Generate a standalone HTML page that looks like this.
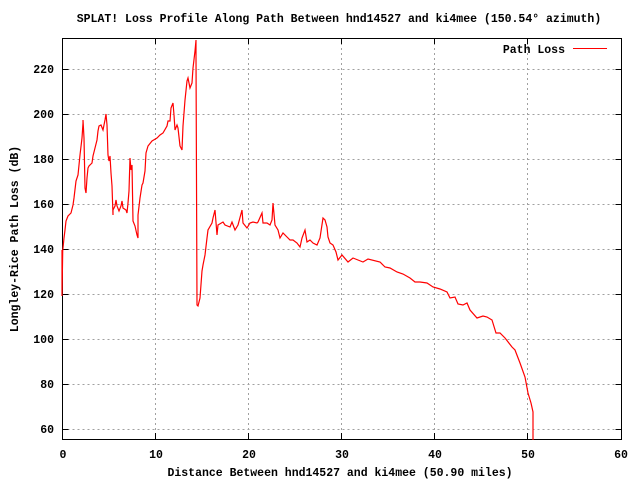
<!DOCTYPE html>
<html><head><style>
html,body{margin:0;padding:0;background:#fff;width:640px;height:480px;overflow:hidden}
text{font-family:"Liberation Mono","DejaVu Sans Mono",monospace;font-weight:bold;font-size:11.5px;fill:#000}
</style></head><body>
<svg width="640" height="480" viewBox="0 0 640 480" xmlns="http://www.w3.org/2000/svg">
<rect width="640" height="480" fill="#fff"/>
<g stroke="#a0a0a0" stroke-width="1" stroke-dasharray="2,3" fill="none">
<path d="M62.5 429.5H621M62.5 384.5H621M62.5 339.5H621M62.5 294.5H621M62.5 249.5H621M62.5 204.5H621M62.5 159.5H621M62.5 114.5H621M62.5 69.5H621"/>
<path d="M155.5 38V439M248.5 38V439M341.5 38V439M434.5 38V439M527.5 38V439"/>
</g>
<g stroke="#000" stroke-width="1">
<rect x="62.5" y="38.5" width="559" height="401" fill="none"/>
<path d="M62.5 429.5h6M62.5 384.5h6M62.5 339.5h6M62.5 294.5h6M62.5 249.5h6M62.5 204.5h6M62.5 159.5h6M62.5 114.5h6M62.5 69.5h6
M621.5 429.5h-6M621.5 384.5h-6M621.5 339.5h-6M621.5 294.5h-6M621.5 249.5h-6M621.5 204.5h-6M621.5 159.5h-6M621.5 114.5h-6M621.5 69.5h-6
M155.5 439v-6M248.5 439v-6M341.5 439v-6M434.5 439v-6M527.5 439v-6
M155.5 38v6M248.5 38v6M341.5 38v6M434.5 38v6M527.5 38v6"/>
</g>
<g text-anchor="end">
<text x="54" y="433">60</text><text x="54" y="388">80</text><text x="54" y="343">100</text><text x="54" y="298">120</text><text x="54" y="253">140</text><text x="54" y="208">160</text><text x="54" y="163">180</text><text x="54" y="118">200</text><text x="54" y="73">220</text>
</g>
<g text-anchor="middle">
<text x="63" y="458">0</text><text x="156" y="458">10</text><text x="249" y="458">20</text><text x="342" y="458">30</text><text x="435" y="458">40</text><text x="528" y="458">50</text><text x="621" y="458">60</text>
<text x="340" y="476">Distance Between hnd14527 and ki4mee (50.90 miles)</text>
<text x="339" y="22">SPLAT! Loss Profile Along Path Between hnd14527 and ki4mee (150.54° azimuth)</text>
<text transform="translate(18,239) rotate(-90)">Longley-Rice Path Loss (dB)</text>
</g>
<text x="565" y="53" text-anchor="end">Path Loss</text>
<path d="M573 48.5H607" stroke="#f00" stroke-width="1"/>
<polyline fill="none" stroke="#f00" stroke-width="1.2" stroke-linejoin="miter" points="
62,250 62,296 62.7,251 64,238 65,230 66,221 68,216 71,213 73,205 74,198 76,181 78,175 80,155 82,138 83,123 83,120 84,138 85,188 86,193 87,178 88,168 89,166 92,163 93,156 95,148 97,140 98,131 99,126 101,125 103,130 104,125 105,120 106,114 107,125 108,155 109,161 110,156 111,173 112,186 113,215 113,210 115,206 116,200 117,206 119,211 121,206 122,201 123,208 126,210 127,213 128,203 129,191 130,158 131,170 132,165 133,221 135,226 137,235 138,238 138,215 140,198 142,185 143,183 145,171 146,153 148,146 152,141 157,138 160,135 163,133 167,126 168,121 170,121 171,108 173,103 174,115 175,130 177,125 178,128 180,146 182,150 183,126 185,100 187,81 188,78 190,88 192,83 193,68 195,51 196,40 196,56 197,305 198,306 200,298 202,271 203,265 205,255 207,238 208,230 212,223 213,218 215,210 217,235 218,225 223,222 225,225 230,227 232,222 235,230 238,225 242,210 243,223 247,228 250,223 253,222 257,223 258,222 262,213 263,223 267,223 270,225 272,220 273,203 275,225 278,230 280,238 283,233 287,237 290,240 293,240 297,243 300,247 302,238 305,230 307,242 310,240 313,243 317,245 320,238 323,218 325,220 327,227 328,237 330,243 333,245 336,252 338,260 342,255 348,262 353,258 363,262 368,259 380,262 385,267 390,268 397,272 403,274 410,278 415,282 420,282 427,283 433,287 440,289 447,292 450,298 455,297 458,304 463,305 467,303 470,310 477,318 483,316 487,317 492,320 496,333 500,333 505,338 512,347 515,350 520,363 525,377 528,393 531,403 533,412 533,440"/>
</svg>
</body></html>
